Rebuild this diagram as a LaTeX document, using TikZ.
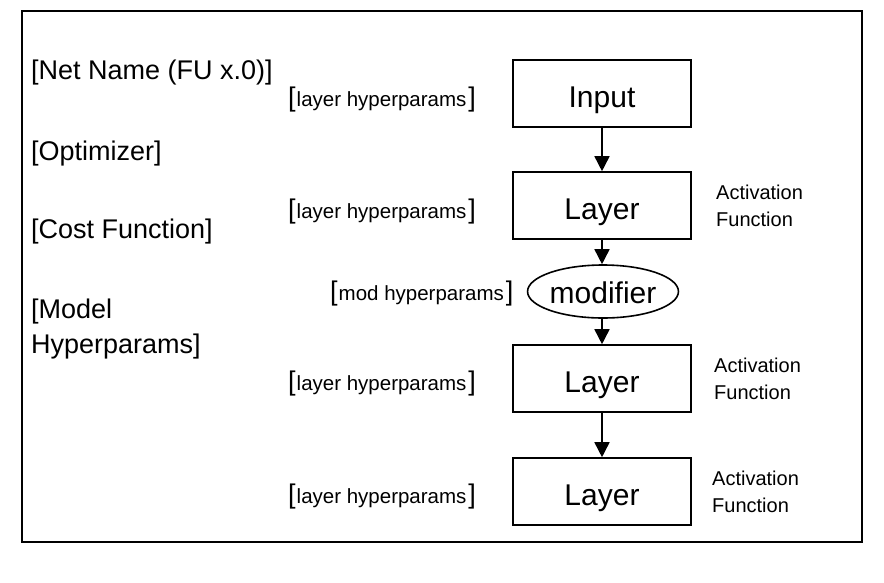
\documentclass[tikz,border=0pt]{standalone}
\usepackage{fontspec}
\setmainfont{Liberation Sans}
\usetikzlibrary{shapes.geometric,arrows.meta}
\newcommand{\bigtxt}{\fontsize{27}{35}\selectfont}
\newcommand{\smalltxt}{\fontsize{20}{27}\selectfont}
\newcommand{\hptxtfont}{\fontsize{20.5}{27}\selectfont}
\newcommand{\boxtxt}{\fontsize{30}{36}\selectfont}
\newcommand{\hp}[1]{{\bigtxt[}\kern1pt{\hptxtfont #1}\kern2pt{\bigtxt]}}
\begin{document}
\begin{tikzpicture}[x=1pt,y=-1pt,
  lw/.style={line width=1.6pt},
  layerbox/.style={draw,lw,minimum width=178pt,minimum height=67pt,inner sep=0pt,
    font=\boxtxt,text height=27pt,text depth=0pt},
  modbox/.style={draw,lw,ellipse,minimum width=143pt,minimum height=53pt,inner sep=0pt,
    font=\boxtxt,text height=24pt,text depth=0pt},
  lefttxt/.style={anchor=base west,inner sep=0pt,font=\bigtxt,align=left},
  hptxt/.style={anchor=base west,inner sep=0pt},
  acttxt/.style={anchor=base west,inner sep=0pt,font=\smalltxt,align=left},
  flow/.style={lw,-{Triangle[width=15pt,length=15pt]}}]
\useasboundingbox (0,0) rectangle (884,582);
\draw[lw] (22,11) rectangle (862,542);

% left texts
\node[lefttxt] (netname) at (31,79) {[Net Name (FU x.0)]};
\node[lefttxt] (optim) at (31,160) {[Optimizer]};
\node[lefttxt] (cost) at (31,238) {[Cost Function]};
\node[lefttxt] (model) at (31,353) {[Model\\Hyperparams]};

% main chain
\node[layerbox] (input) at (602,93.5) {Input};
\node[layerbox] (l1) at (602,205.5) {Layer};
\node[modbox] (mod) at (603,291.5) {modifier};
\node[layerbox] (l2) at (602,378.5) {Layer};
\node[layerbox] (l3) at (602,491.5) {Layer};

\draw[flow] (input.south) -- (l1.north);
\draw[flow] (l1.south) -- (l1.south |- mod.north);
\draw[flow] (l1.south |- mod.south) -- (l2.north);
\draw[flow] (l2.south) -- (l3.north);

% hyperparams
\node[hptxt] (hp0) at (288,106.5) {\hp{layer hyperparams}};
\node[hptxt] (hp1) at (288,218.5) {\hp{layer hyperparams}};
\node[hptxt] (hpm) at (330,300) {\hp{mod hyperparams}};
\node[hptxt] (hp2) at (288,390) {\hp{layer hyperparams}};
\node[hptxt] (hp3) at (288,503) {\hp{layer hyperparams}};

% activation
\node[acttxt] (act1) at (716,226) {Activation\\Function};
\node[acttxt] (act2) at (714,399.5) {Activation\\Function};
\node[acttxt] (act3) at (712,512.5) {Activation\\Function};
\end{tikzpicture}
\end{document}
